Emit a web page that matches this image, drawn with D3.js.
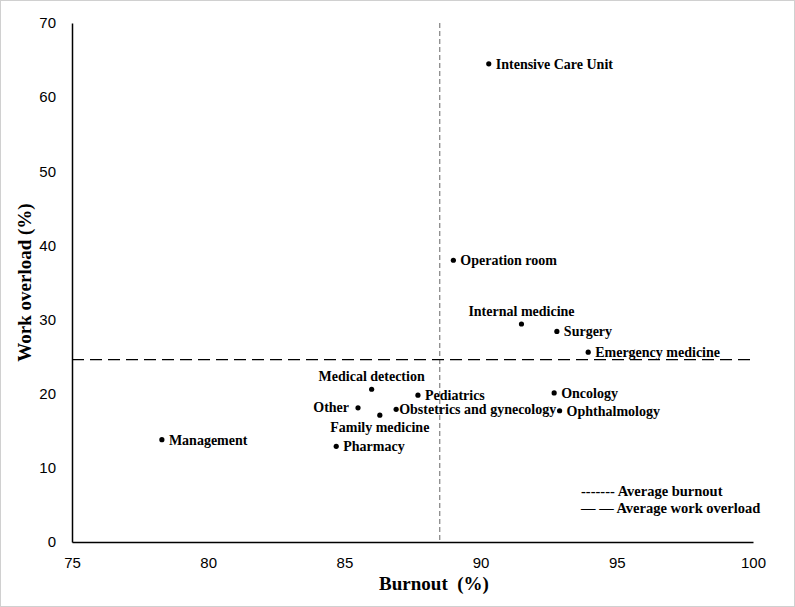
<!DOCTYPE html>
<html>
<head>
<meta charset="utf-8">
<script src="https://cdn.jsdelivr.net/npm/d3@7"></script>
<style>
  body { margin: 0; background: #fff; }
  .tick text { font-family: "Liberation Sans", Arial, sans-serif; font-size: 15px; fill: #000; }
  .lbl { font-family: "Liberation Serif", "Times New Roman", serif; font-weight: bold; font-size: 14px; fill: #000; }
  .leg { font-family: "Liberation Serif", "Times New Roman", serif; font-weight: bold; font-size: 14.5px; fill: #000; }
  .title { font-family: "Liberation Serif", "Times New Roman", serif; font-weight: bold; font-size: 19px; }
</style>
</head>
<body>
<svg width="795" height="607"></svg>
<script>
// departments, burnout (%) and work overload (%)
var departments = ["Intensive Care Unit", "Operation room", "Internal medicine", "Surgery",
  "Emergency medicine", "Oncology", "Ophthalmology", "Medical detection", "Pediatrics",
  "Other", "Obstetrics and gynecology", "Family medicine", "Pharmacy", "Management"];
var burnout  = [90.3, 89.0, 91.5, 92.8, 93.95, 92.7, 92.9, 86.0, 87.7, 85.5, 86.9, 86.3, 84.7, 78.3];
var overload = [64.5, 38.0, 29.4, 28.4, 25.6, 20.1, 17.7, 20.6, 19.8, 18.1, 17.9, 17.1, 12.9, 13.8];

var avgBurnout = 88.5;
var avgOverload = 24.6;

var xTicks = [75, 80, 85, 90, 95, 100];
var yTicks = [0, 10, 20, 30, 40, 50, 60, 70];

// where each label sits relative to its dot
var placement = {
  "Internal medicine": "above",
  "Medical detection": "above",
  "Family medicine": "below",
  "Other": "left",
  "Obstetrics and gynecology": "tight"
};

var width = 795, height = 607;
var margin = {left: 72, right: 42, top: 23, bottom: 65};

var svg = d3.select("svg");

svg.append("rect")
  .attr("x", 0.5).attr("y", 0.5)
  .attr("width", width - 1).attr("height", height - 1)
  .attr("fill", "#fff")
  .attr("stroke", "#d0d0d0");

var x = d3.scaleLinear().domain([75, 100]).range([margin.left, width - margin.right]);
var y = d3.scaleLinear().domain([0, 70]).range([height - margin.bottom, margin.top]);

var xAxis = svg.append("g")
  .attr("transform", "translate(0," + y(0) + ")")
  .call(d3.axisBottom(x).tickValues(xTicks).tickSize(0).tickPadding(15));
xAxis.select(".domain").attr("stroke", "#000").attr("stroke-width", 1.5);

var yAxis = svg.append("g")
  .attr("transform", "translate(" + x(75) + ",0)")
  .call(d3.axisLeft(y).tickValues(yTicks).tickSize(0).tickPadding(16));
yAxis.select(".domain").attr("stroke", "#000").attr("stroke-width", 1.5);

// average lines
svg.append("line")
  .attr("x1", x(avgBurnout)).attr("x2", x(avgBurnout))
  .attr("y1", y(70)).attr("y2", y(0))
  .attr("stroke", "#808080").attr("stroke-width", 1.2)
  .attr("stroke-dasharray", "5,3");

svg.append("line")
  .attr("x1", x(75)).attr("x2", x(100))
  .attr("y1", y(avgOverload)).attr("y2", y(avgOverload))
  .attr("stroke", "#000").attr("stroke-width", 1.3)
  .attr("stroke-dasharray", "12,6");

var rows = departments.map(function(d, i) {
  return {name: d, bx: burnout[i], wy: overload[i]};
});

svg.selectAll(".dot")
  .data(rows)
  .enter()
  .append("circle")
    .attr("class", "dot")
    .attr("cx", d => x(d.bx))
    .attr("cy", d => y(d.wy))
    .attr("r", 2.6)
    .attr("fill", "#000");

svg.selectAll(".lbl")
  .data(rows)
  .enter()
  .append("text")
    .attr("class", "lbl")
    .each(function(d) {
      var t = d3.select(this);
      var px = x(d.bx), py = y(d.wy);
      var p = placement[d.name] || "right";
      if (p == "above") {
        t.attr("x", px).attr("y", py - 8).attr("text-anchor", "middle");
      } else if (p == "below") {
        t.attr("x", px).attr("y", py + 17).attr("text-anchor", "middle");
      } else if (p == "left") {
        t.attr("x", px - 9).attr("y", py + 4).attr("text-anchor", "end");
      } else if (p == "tight") {
        t.attr("x", px + 3).attr("y", py + 5);
      } else {
        t.attr("x", px + 7).attr("y", py + 5);
      }
    })
    .text(d => d.name);

// legend
var legend = svg.append("g");
legend.append("text").attr("class", "leg").attr("x", 581).attr("y", 496).text("------- Average burnout");
legend.append("text").attr("class", "leg").attr("x", 581).attr("y", 513).text("\u2014 \u2014 Average work overload");

// axis titles
svg.append("text")
  .attr("class", "title")
  .attr("x", 434)
  .attr("y", 590)
  .attr("text-anchor", "middle")
  .attr("xml:space", "preserve")
  .style("white-space", "pre")
  .text("Burnout  (%)");

svg.append("text")
  .attr("class", "title")
  .attr("transform", "translate(31," + y(35) + ") rotate(-90)")
  .attr("text-anchor", "middle")
  .text("Work overload (%)");
</script>
</body>
</html>
